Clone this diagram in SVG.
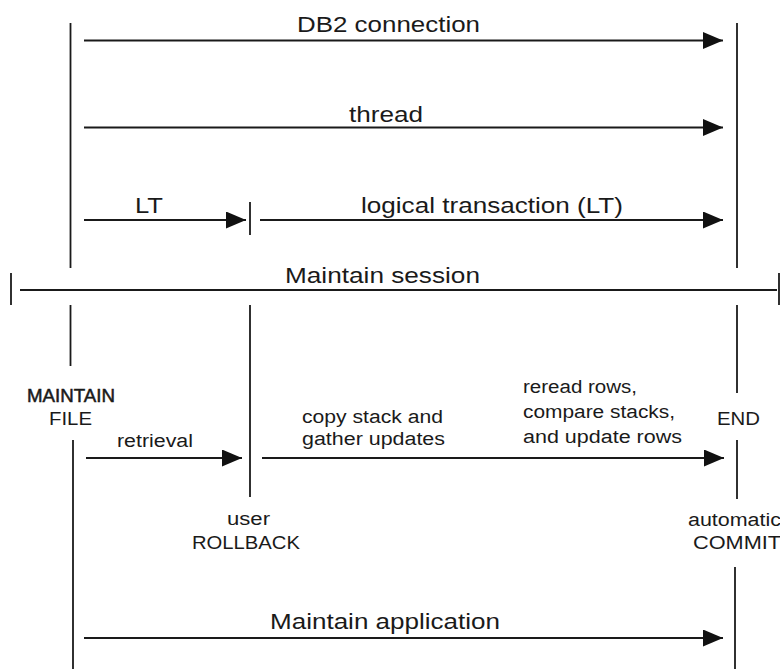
<svg xmlns="http://www.w3.org/2000/svg" width="780" height="669" viewBox="0 0 780 669">
  <style>
    .ln { stroke: #1a1a1a; stroke-width: 1.8; fill: none; }
    .ar { stroke: #1a1a1a; stroke-width: 1.8; fill: none; marker-end: url(#head); }
    .big { font-family: "Liberation Sans", Arial, sans-serif; font-size: 22px; fill: #1a1a1a; }
    .sm { font-family: "Liberation Sans", Arial, sans-serif; font-size: 18px; fill: #1a1a1a; }
  </style>
  <defs>
    <marker id="head" markerUnits="userSpaceOnUse" markerWidth="21" markerHeight="18" refX="20" refY="8.5" orient="auto">
      <path d="M0,0 L20,8.5 L0,17 z" fill="#111"/>
    </marker>
  </defs>
  <rect width="780" height="669" fill="#ffffff"/>

  <!-- start of the maintain file program -->
  <g id="maintain-file">
    <line class="ln" x1="70.5" y1="23" x2="70.5" y2="268"/>
    <line class="ln" x1="70.5" y1="305" x2="70.5" y2="366"/>
    <line class="ln" x1="73" y1="440" x2="73" y2="669"/>
    <text class="sm" x="27" y="402" font-size="15" stroke="#1a1a1a" stroke-width="0.5" textLength="88" lengthAdjust="spacingAndGlyphs">MAINTAIN</text>
    <text class="sm" x="49" y="425" textLength="43" lengthAdjust="spacingAndGlyphs">FILE</text>
  </g>

  <!-- user rollback point -->
  <g id="user-rollback">
    <line class="ln" x1="250" y1="202" x2="250" y2="235"/>
    <line class="ln" x1="250" y1="305" x2="250" y2="497"/>
    <text class="sm" x="227" y="525" textLength="43" lengthAdjust="spacingAndGlyphs">user</text>
    <text class="sm" x="192" y="549" textLength="108" lengthAdjust="spacingAndGlyphs">ROLLBACK</text>
  </g>

  <!-- end of the program / automatic commit -->
  <g id="end-commit">
    <line class="ln" x1="737" y1="23" x2="737" y2="268"/>
    <line class="ln" x1="737" y1="305" x2="737" y2="393"/>
    <line class="ln" x1="737" y1="440" x2="737" y2="499"/>
    <line class="ln" x1="735" y1="567" x2="735" y2="669"/>
    <text class="sm" x="717" y="425" font-size="19" textLength="43" lengthAdjust="spacingAndGlyphs">END</text>
    <text class="sm" x="688" y="526" textLength="93" lengthAdjust="spacingAndGlyphs">automatic</text>
    <text class="sm" x="693" y="549" textLength="88" lengthAdjust="spacingAndGlyphs">COMMIT</text>
  </g>

  <!-- maintain session boundary -->
  <g id="maintain-session">
    <line class="ln" x1="11" y1="273" x2="11" y2="305"/>
    <line class="ln" x1="779" y1="273" x2="779" y2="305"/>
    <line class="ln" x1="20" y1="290" x2="777" y2="290"/>
    <text class="big" x="285" y="283" textLength="195" lengthAdjust="spacingAndGlyphs">Maintain session</text>
  </g>

  <!-- spans and flows -->
  <g id="connectors">
    <line class="ar" x1="84" y1="40.5" x2="723" y2="40.5"/>
    <text class="big" x="297" y="32" textLength="183" lengthAdjust="spacingAndGlyphs">DB2 connection</text>

    <line class="ar" x1="84" y1="127.5" x2="723" y2="127.5"/>
    <text class="big" x="349" y="122" textLength="74" lengthAdjust="spacingAndGlyphs">thread</text>

    <line class="ar" x1="84" y1="220" x2="246" y2="220"/>
    <text class="big" x="135" y="213" textLength="28" lengthAdjust="spacingAndGlyphs">LT</text>
    <line class="ar" x1="260" y1="220" x2="723" y2="220"/>
    <text class="big" x="361" y="213" textLength="262" lengthAdjust="spacingAndGlyphs">logical transaction (LT)</text>

    <line class="ar" x1="86" y1="458" x2="242" y2="458"/>
    <text class="sm" x="117" y="447" textLength="76" lengthAdjust="spacingAndGlyphs">retrieval</text>
    <line class="ar" x1="262" y1="458" x2="724" y2="458"/>
    <text class="sm" x="302" y="423" textLength="141" lengthAdjust="spacingAndGlyphs">copy stack and</text>
    <text class="sm" x="302" y="445" textLength="143" lengthAdjust="spacingAndGlyphs">gather updates</text>
    <text class="sm" x="523" y="393" textLength="114" lengthAdjust="spacingAndGlyphs">reread rows,</text>
    <text class="sm" x="523" y="418" textLength="152" lengthAdjust="spacingAndGlyphs">compare stacks,</text>
    <text class="sm" x="523" y="443" textLength="159" lengthAdjust="spacingAndGlyphs">and update rows</text>

    <line class="ar" x1="84" y1="638" x2="723" y2="638"/>
    <text class="big" x="270" y="629" textLength="230" lengthAdjust="spacingAndGlyphs">Maintain application</text>
  </g>
</svg>
